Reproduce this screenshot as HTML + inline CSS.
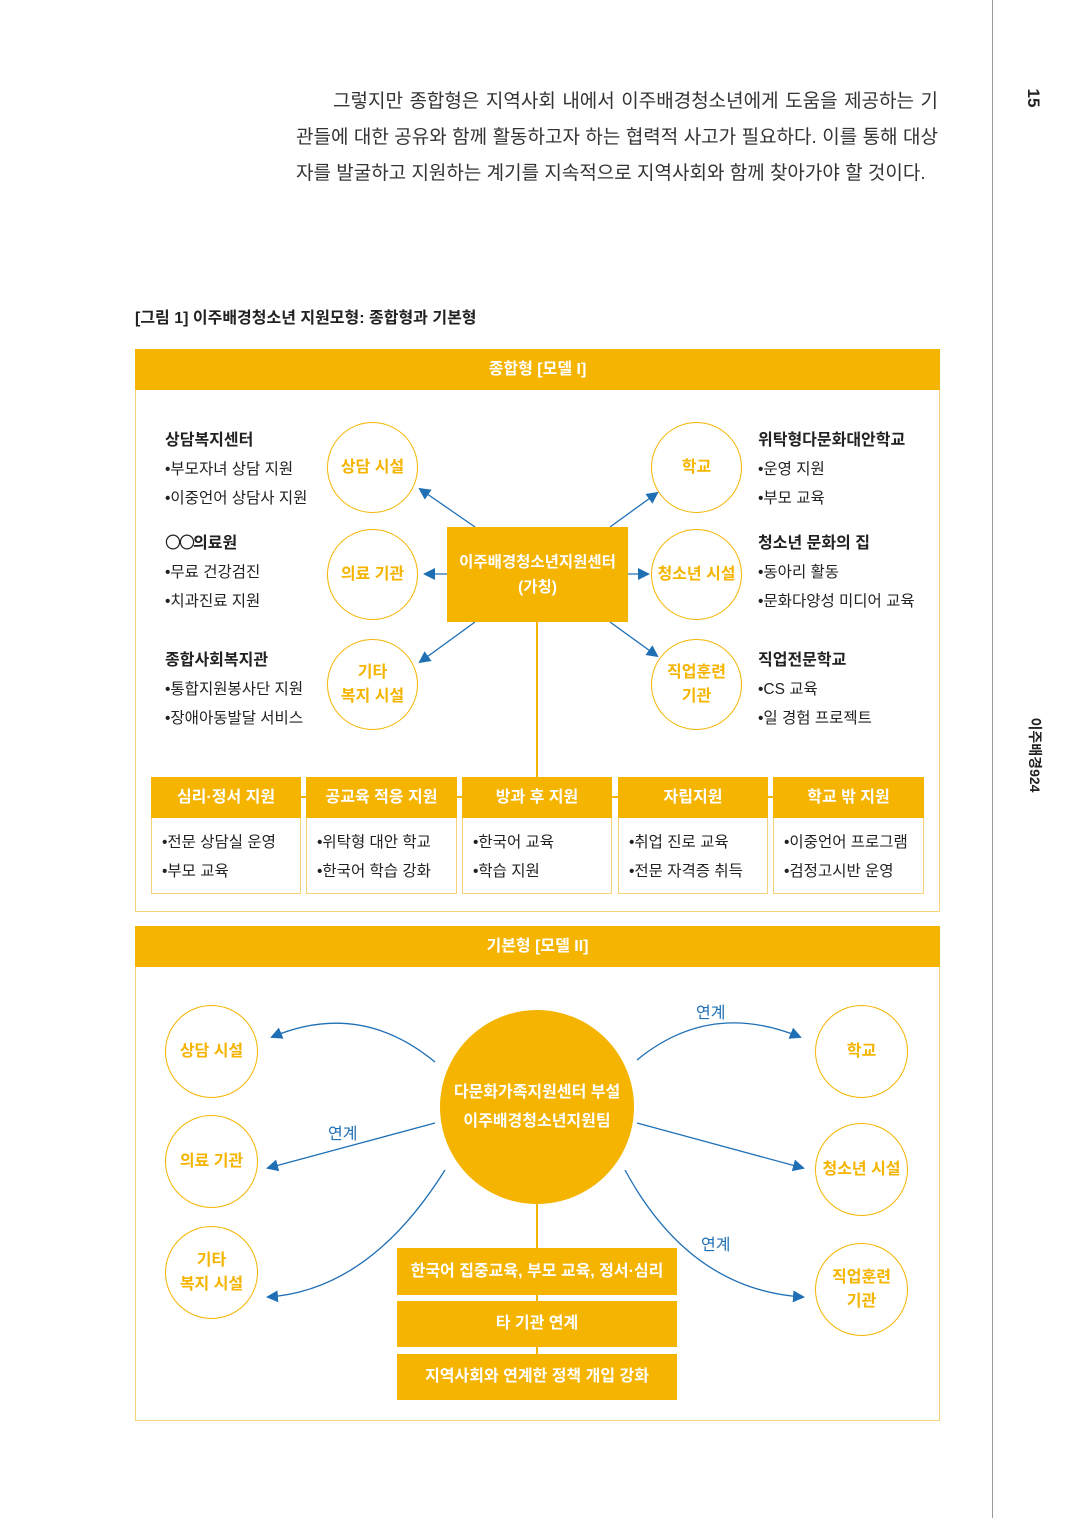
<!DOCTYPE html>
<html><head><meta charset="utf-8"><style>
body{margin:0;width:1075px;height:1518px;position:relative;background:#fff;font-family:"Liberation Sans","Noto Sans CJK KR",sans-serif;color:#222;overflow:hidden}
.a{position:absolute}
.ln{position:absolute;font-size:19px;text-align:justify;text-align-last:justify;white-space:nowrap;color:#333}
.hd{position:absolute;background:#f5b400;color:#fff;font-weight:bold;text-align:center}
.box{position:absolute;border:1.5px solid #f8d27a;box-sizing:border-box}
.c{position:absolute;border:1.5px solid #f5b400;border-radius:50%;box-sizing:border-box;color:#f5b400;font-weight:bold;font-size:16px;display:flex;align-items:center;justify-content:center;text-align:center;line-height:24px;background:#fff}
.t{position:absolute;font-size:15.5px;line-height:29px;color:#222}
.t b{font-size:16px}
.sub{position:absolute;box-sizing:border-box;border:1.5px solid #f8d27a;border-top:none;background:#fff;font-size:15.5px;line-height:29px;padding:10px 0 0 10px}
</style></head><body>
<div class="a" style="left:992px;top:0;width:1px;height:1518px;background:#999"></div>
<div class="a" style="left:1022px;top:88px;font-size:17px;font-weight:bold;transform:rotate(90deg);transform-origin:center;width:22px;text-align:center">15</div>
<div class="a" style="left:985px;top:745px;font-size:14px;font-weight:bold;transform:rotate(90deg);width:100px;text-align:center">이주배경924</div>

<div class="ln" style="left:333px;top:86px;width:605px">그렇지만 종합형은 지역사회 내에서 이주배경청소년에게 도움을 제공하는 기</div>
<div class="ln" style="left:296px;top:122px;width:642px">관들에 대한 공유와 함께 활동하고자 하는 협력적 사고가 필요하다. 이를 통해 대상</div>
<div class="ln" style="left:296px;top:158px;width:620px;text-align-last:left">자를 발굴하고 지원하는 계기를 지속적으로 지역사회와 함께 찾아가야 할 것이다.</div>

<div class="a" style="left:135px;top:304px;font-size:16px;font-weight:bold">[그림 1] 이주배경청소년 지원모형: 종합형과 기본형</div>

<div class="box" style="left:135px;top:349px;width:805px;height:563px"></div>
<div class="hd" style="left:135px;top:349px;width:805px;height:41px;line-height:41px;font-size:16px">종합형 [모델 I]</div>

<svg class="a" style="left:0;top:0" width="1075" height="1518">
<defs>
<marker id="ar2" markerWidth="12" markerHeight="12" refX="10" refY="6" orient="auto" markerUnits="userSpaceOnUse"><path d="M0,0 L12,6 L0,12 Z" fill="#1f6fb5"/></marker></defs>
<line x1="537" y1="622" x2="537" y2="800" stroke="#f5b400" stroke-width="2"/>
<line x1="151" y1="797" x2="924" y2="797" stroke="#f5b400" stroke-width="2"/>
<g stroke="#1f6fb5" stroke-width="1.3" fill="none" marker-end="url(#ar2)">
<line x1="475" y1="527" x2="420" y2="489"/>
<line x1="447" y1="574" x2="425" y2="574"/>
<line x1="475" y1="622" x2="420" y2="662"/>
<line x1="610" y1="527" x2="657" y2="493"/>
<line x1="628" y1="574" x2="648" y2="574"/>
<line x1="610" y1="622" x2="657" y2="656"/>
<path d="M435,1062 Q360,1000 272,1037"/>
<line x1="435" y1="1123" x2="268" y2="1168"/>
<path d="M445,1170 Q370,1290 268,1297"/>
<path d="M637,1060 Q710,1000 800,1037"/>
<line x1="637" y1="1123" x2="803" y2="1168"/>
<path d="M625,1170 Q690,1290 803,1297"/>
</g>
<line x1="537" y1="1200" x2="537" y2="1400" stroke="#f5b400" stroke-width="2"/>
</svg>

<div class="hd" style="left:447px;top:527px;width:181px;height:95px;font-size:15.5px;line-height:25px;display:flex;align-items:center;justify-content:center">이주배경청소년지원센터<br>(가칭)</div>

<div class="c" style="left:327px;top:422px;width:91px;height:91px">상담 시설</div>
<div class="c" style="left:327px;top:529px;width:91px;height:91px">의료 기관</div>
<div class="c" style="left:327px;top:639px;width:91px;height:91px">기타<br>복지 시설</div>
<div class="c" style="left:651px;top:422px;width:91px;height:91px">학교</div>
<div class="c" style="left:651px;top:529px;width:91px;height:91px">청소년 시설</div>
<div class="c" style="left:651px;top:639px;width:91px;height:91px">직업훈련<br>기관</div>

<div class="t" style="left:165px;top:426px"><b>상담복지센터</b><br>•부모자녀 상담 지원<br>•이중언어 상담사 지원</div>
<div class="t" style="left:165px;top:529px"><b><span style="font-weight:normal;letter-spacing:-2px">〇〇</span>의료원</b><br>•무료 건강검진<br>•치과진료 지원</div>
<div class="t" style="left:165px;top:646px"><b>종합사회복지관</b><br>•통합지원봉사단 지원<br>•장애아동발달 서비스</div>
<div class="t" style="left:758px;top:426px"><b>위탁형다문화대안학교</b><br>•운영 지원<br>•부모 교육</div>
<div class="t" style="left:758px;top:529px"><b>청소년 문화의 집</b><br>•동아리 활동<br>•문화다양성 미디어 교육</div>
<div class="t" style="left:758px;top:646px"><b>직업전문학교</b><br>•CS 교육<br>•일 경험 프로젝트</div>

<div class="hd" style="left:151px;top:777px;width:150px;height:41px;line-height:41px;font-size:16px">심리·정서 지원</div>
<div class="hd" style="left:306px;top:777px;width:151px;height:41px;line-height:41px;font-size:16px">공교육 적응 지원</div>
<div class="hd" style="left:462px;top:777px;width:150px;height:41px;line-height:41px;font-size:16px">방과 후 지원</div>
<div class="hd" style="left:618px;top:777px;width:150px;height:41px;line-height:41px;font-size:16px">자립지원</div>
<div class="hd" style="left:773px;top:777px;width:151px;height:41px;line-height:41px;font-size:16px">학교 밖 지원</div>
<div class="sub" style="left:151px;top:818px;width:150px;height:76px">•전문 상담실 운영<br>•부모 교육</div>
<div class="sub" style="left:306px;top:818px;width:151px;height:76px">•위탁형 대안 학교<br>•한국어 학습 강화</div>
<div class="sub" style="left:462px;top:818px;width:150px;height:76px">•한국어 교육<br>•학습 지원</div>
<div class="sub" style="left:618px;top:818px;width:150px;height:76px">•취업 진로 교육<br>•전문 자격증 취득</div>
<div class="sub" style="left:773px;top:818px;width:151px;height:76px">•이중언어 프로그램<br>•검정고시반 운영</div>

<div class="box" style="left:135px;top:926px;width:805px;height:495px"></div>
<div class="hd" style="left:135px;top:926px;width:805px;height:41px;line-height:41px;font-size:16px">기본형 [모델 II]</div>

<div class="hd" style="left:440px;top:1010px;width:194px;height:194px;border-radius:50%;font-size:16px;line-height:29px;display:flex;align-items:center;justify-content:center">다문화가족지원센터 부설<br>이주배경청소년지원팀</div>

<div class="c" style="left:165px;top:1005px;width:93px;height:93px">상담 시설</div>
<div class="c" style="left:165px;top:1115px;width:93px;height:93px">의료 기관</div>
<div class="c" style="left:165px;top:1226px;width:93px;height:93px">기타<br>복지 시설</div>
<div class="c" style="left:815px;top:1005px;width:93px;height:93px">학교</div>
<div class="c" style="left:815px;top:1123px;width:93px;height:93px">청소년 시설</div>
<div class="c" style="left:815px;top:1243px;width:93px;height:93px">직업훈련<br>기관</div>

<div class="a" style="left:696px;top:999px;color:#1f6fb5;font-size:16px">연계</div>
<div class="a" style="left:328px;top:1120px;color:#1f6fb5;font-size:16px">연계</div>
<div class="a" style="left:701px;top:1231px;color:#1f6fb5;font-size:16px">연계</div>

<div class="hd" style="left:397px;top:1248px;width:280px;height:47px;line-height:47px;font-size:16px">한국어 집중교육, 부모 교육, 정서·심리</div>
<div class="hd" style="left:397px;top:1301px;width:280px;height:46px;line-height:46px;font-size:16px">타 기관 연계</div>
<div class="hd" style="left:397px;top:1354px;width:280px;height:46px;line-height:46px;font-size:16px">지역사회와 연계한 정책 개입 강화</div>
</body></html>
